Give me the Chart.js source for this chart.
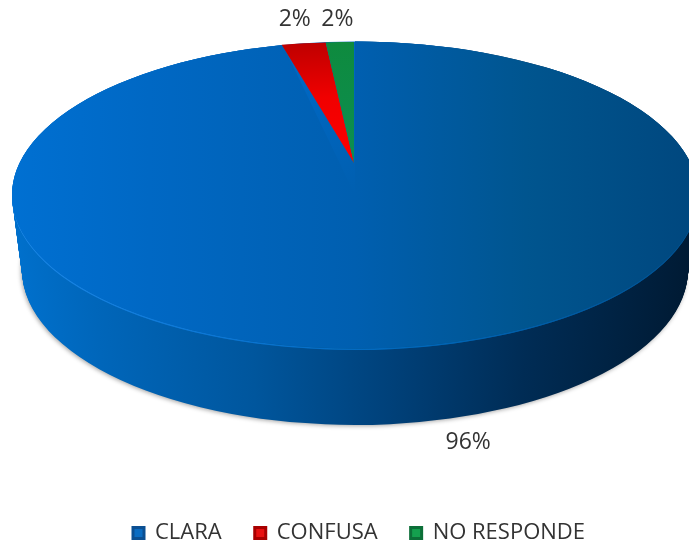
<!DOCTYPE html>
<html><head><meta charset="utf-8">
<style>html,body{margin:0;padding:0;background:#fff}#w{position:relative;width:689px;height:545px;overflow:hidden}canvas{display:block}</style>
<script src="https://cdn.jsdelivr.net/npm/chart.js@4"></script>
</head><body><div id="w"><canvas id="c" width="689" height="545"></canvas></div>
<script>
const categories = ["CLARA", "CONFUSA", "NO RESPONDE"];
const values = [96.6, 2.06, 1.31];
const percentLabels = ["96%", "2%", "2%"];
const sliceColors = ["#0a6cc2", "#e81010", "#14a04e"];
const legendEdgeColors = ["#0b4f92", "#a80000", "#0c6f38"];

const TOP = {x: 355, y: 195, rx: 343, ry: 153.5};      // top face ellipse
const TIP = {x: 354, y: 163, rx: 344, ry: 121};        // perspective-shifted apex for the thin slices
const BOTTOM = {x: 355, y: 270, rx: 333, ry: 155};     // base ellipse of the wall
const LABEL_OFFSETS = [[78, 18], [-10, -24], [-3.5, -22]];
const LEGEND_SHIFT = 9;

function hGrad(ctx, el, stops) {
  const g = ctx.createLinearGradient(el.x - el.outerRadius, 0, el.x + el.outerRadius, 0);
  stops.forEach(s => g.addColorStop(s[0], s[1]));
  return g;
}
function paint(ctx, el, e, fill, rot) {
  const R = el.outerRadius;
  ctx.save();
  ctx.translate(e.x, e.y);
  ctx.scale(e.rx / R, e.ry / R);
  ctx.translate(-el.x, -el.y);
  if (rot) { ctx.translate(el.x, el.y); ctx.rotate(rot); ctx.translate(-el.x, -el.y); }
  const saved = el.options;
  el.options = Object.create(saved, {backgroundColor: {value: fill}, borderWidth: {value: 0}});
  el.draw(ctx);
  el.options = saved;
  ctx.restore();
}
const pie3d = {
  id: "pie3d",
  afterLayout(chart) {
    chart.legend.top += LEGEND_SHIFT;
    chart.legend.bottom += LEGEND_SHIFT;
  },
  beforeDatasetsDraw(chart) {
    const ctx = chart.ctx;
    const els = chart.getDatasetMeta(0).data;
    const blue = els[0];
    const side = hGrad(ctx, blue, [[0, "#0070cc"], [0.12, "#0066ba"], [0.35, "#00569d"], [0.55, "#00417a"], [0.75, "#002c55"], [1, "#001a33"]]);
    const top = hGrad(ctx, blue, [[0, "#0070d2"], [0.2, "#0068c4"], [0.5, "#005fb0"], [0.75, "#00558f"], [1, "#00477e"]]);
    const rim = hGrad(ctx, blue, [[0, "#1a86e6"], [0.3, "#0c76d4"], [0.6, "#0066b8"], [1, "#00508f"]]);
    const steps = 76;
    for (let i = steps; i >= 0; i--) {
      const t = i / steps;
      const e = {x: TOP.x, y: TOP.y + (BOTTOM.y - TOP.y) * t, rx: TOP.rx + (BOTTOM.rx - TOP.rx) * t, ry: TOP.ry + (BOTTOM.ry - TOP.ry) * t};
      if (i === steps) { ctx.save(); ctx.shadowColor = "rgba(0,0,0,0.35)"; ctx.shadowBlur = 4; ctx.shadowOffsetX = -1; ctx.shadowOffsetY = 1; }
      paint(ctx, blue, e, side);
      if (i === steps) ctx.restore();
    }
    paint(ctx, blue, {...TOP, y: TOP.y + 1.5}, rim, 0.6);
    paint(ctx, blue, {...TOP, y: TOP.y + 1.5}, rim);
    paint(ctx, blue, TOP, top, 0.6);
    paint(ctx, blue, TOP, top);
    const rg = ctx.createRadialGradient(els[1].x, els[1].y, 0, els[1].x, els[1].y, els[1].outerRadius);
    rg.addColorStop(0, "#ff0000"); rg.addColorStop(0.55, "#f00000"); rg.addColorStop(1, "#bf0000");
    paint(ctx, els[1], TIP, rg);
    const gg = ctx.createRadialGradient(els[2].x, els[2].y, 0, els[2].x, els[2].y, els[2].outerRadius);
    gg.addColorStop(0, "#0c8f52"); gg.addColorStop(1, "#0e8a3e");
    paint(ctx, els[2], TIP, gg);

    ctx.save();
    ctx.font = '23px "Open Sans"';
    ctx.fillStyle = "#333333";
    ctx.textAlign = "center";
    ctx.textBaseline = "middle";
    els.forEach((el, i) => {
      const mid = (el.startAngle + el.endAngle) / 2 + Math.PI / 2;
      const e = i === 0 ? BOTTOM : TOP;
      const x = e.x + e.rx * Math.sin(mid) + LABEL_OFFSETS[i][0];
      const y = e.y - e.ry * Math.cos(mid) + LABEL_OFFSETS[i][1];
      ctx.fillText(percentLabels[i], x, y);
    });
    ctx.restore();
    return false;
  }
};
new Chart(document.getElementById("c"), {
  type: "pie",
  data: {labels: categories, datasets: [{data: values, backgroundColor: sliceColors, borderColor: legendEdgeColors, borderWidth: 3}]},
  options: {
    responsive: false, animation: false,
    layout: {padding: {left: 29, top: 20, bottom: 0}},
    plugins: {
      tooltip: {enabled: false},
      legend: {
        position: "bottom",
        labels: {
          boxWidth: 11, boxHeight: 11, padding: 33, color: "#333333",
          font: {family: "Open Sans", size: 22}
        }
      }
    }
  },
  plugins: [pie3d]
});
</script></body></html>
